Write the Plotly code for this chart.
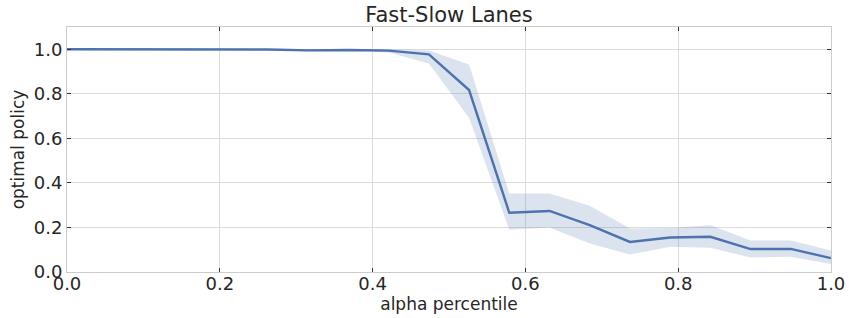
import plotly.graph_objects as go

x_vals = [0.0, 0.0526, 0.1053, 0.1579, 0.2105, 0.2632, 0.3158, 0.3684, 0.4211, 0.4737,
          0.5263, 0.5789, 0.6316, 0.6842, 0.7368, 0.7895, 0.8421, 0.8947, 0.9474, 1.0]
mean_vals = [1.0, 1.0, 1.0, 0.997, 0.999, 0.999, 0.995, 0.997, 0.994, 0.977,
             0.817, 0.266, 0.274, 0.21, 0.135, 0.155, 0.158, 0.103, 0.104, 0.062]
upper_vals = [1.0, 1.0, 1.0, 1.0, 1.0, 1.0, 1.0, 1.0, 1.0, 0.995,
              0.932, 0.353, 0.353, 0.298, 0.195, 0.198, 0.21, 0.141, 0.141, 0.096]
lower_vals = [1.0, 1.0, 0.999, 0.993, 0.997, 0.997, 0.99, 0.993, 0.985, 0.936,
              0.693, 0.19, 0.2, 0.128, 0.079, 0.113, 0.109, 0.065, 0.068, 0.036]

x_ticks = [0.0, 0.2, 0.4, 0.6, 0.8, 1.0]
y_ticks = [0.0, 0.2, 0.4, 0.6, 0.8, 1.0]

blue = "#4c72b0"
fig = go.Figure()
fig.add_trace(go.Scatter(x=x_vals + x_vals[::-1], y=upper_vals + lower_vals[::-1],
                         fill="toself", fillcolor="rgba(76,114,176,0.2)",
                         line=dict(width=0), hoverinfo="skip", showlegend=False))
fig.add_trace(go.Scatter(x=x_vals, y=mean_vals, mode="lines",
                         line=dict(color=blue, width=2.4), showlegend=False))

axis_common = dict(showgrid=True, gridcolor="#dcdcdc", gridwidth=1,
                   showline=True, linecolor="#cccccc", linewidth=1, mirror="allticks",
                   ticks="inside", ticklen=4, tickcolor="#333333", tickwidth=1,
                   zeroline=False, automargin=False,
                   tickfont=dict(family="DejaVu Sans", size=18, color="#262626"))
fig.update_xaxes(range=[0, 1], tickvals=x_ticks, tickformat=".1f", ticklabelstandoff=-5,
                 title=dict(text="alpha percentile", font=dict(family="DejaVu Sans", size=17, color="#262626"), standoff=2),
                 **axis_common)
fig.update_yaxes(range=[0, 1.1], tickvals=y_ticks, tickformat=".1f",
                 title=dict(text="optimal policy", font=dict(family="DejaVu Sans", size=17, color="#262626"), standoff=4),
                 **axis_common)
fig.update_layout(width=849, height=318, margin=dict(l=67, r=18, t=27, b=46),
                  paper_bgcolor="white", plot_bgcolor="white",
                  title=dict(text="Fast-Slow Lanes", x=0.5, xref="paper", y=1 - 15 / 318, yref="container",
                             xanchor="center", yanchor="middle",
                             font=dict(family="DejaVu Sans", size=21, color="#262626")))
fig.write_html("out.html", config={"displayModeBar": False},
               post_script="document.body.style.margin='0';")
